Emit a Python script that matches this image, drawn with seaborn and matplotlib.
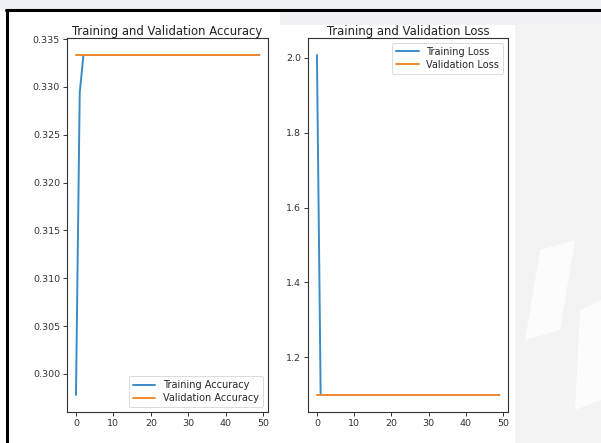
import numpy as np
import pandas as pd
import matplotlib
matplotlib.use("Agg")
import matplotlib.pyplot as plt
import seaborn as sns
from matplotlib.patches import Rectangle, Polygon

# ---- data ----
epochs = list(range(50))
train_acc = [0.2978, 0.3294] + [0.33333] * 48
val_acc = [0.33333] * 50
train_loss = [2.008] + [1.0986] * 49
val_loss = [1.0986] * 50

acc_labels = ["Training Accuracy", "Validation Accuracy"]
loss_labels = ["Training Loss", "Validation Loss"]
titles = ["Training and Validation Accuracy", "Training and Validation Loss"]

sns.set_theme(style="ticks")
plt.rcParams['font.family'] = ['DejaVu Sans']

W, H = 601, 443
fig = plt.figure(figsize=(W / 100, H / 100), dpi=100)
fig.patch.set_facecolor("white")

# faint watermark-like background on the right / top
bg = fig.add_axes([0, 0, 1, 1], zorder=-10)
bg.set_xlim(0, W); bg.set_ylim(H, 0); bg.axis("off")
bg.add_patch(Rectangle((515, 0), 86, 443, color="#f3f3f3", lw=0))
bg.add_patch(Rectangle((280, 0), 321, 25, color="#f1f1f3", lw=0))
bg.add_patch(Rectangle((0, 0), 601, 10, color="#eef0f4", lw=0))
bg.add_patch(Polygon([[540, 250], [575, 240], [560, 330], [525, 340]], closed=True, color="#fcfcfc", lw=0))
bg.add_patch(Polygon([[580, 310], [601, 300], [601, 400], [575, 410]], closed=True, color="#fcfcfc", lw=0))
# frame lines
bg.plot([6, 601], [10, 10], color="black", lw=2.2)
bg.plot([6.5, 6.5], [10, 443], color="black", lw=2.2)

def px_axes(l, t, r, b):
    return fig.add_axes([l / W, 1 - b / H, (r - l) / W, (b - t) / H])

ax1 = px_axes(67, 38, 268, 412)
ax2 = px_axes(308, 38, 508, 412)

df_acc = pd.DataFrame({"epoch": epochs * 2,
                       "value": train_acc + val_acc,
                       "series": [acc_labels[0]] * 50 + [acc_labels[1]] * 50})
df_loss = pd.DataFrame({"epoch": epochs * 2,
                        "value": train_loss + val_loss,
                        "series": [loss_labels[0]] * 50 + [loss_labels[1]] * 50})

pal = ["#3a8bc6", "#f28a30"]
sns.lineplot(data=df_acc, x="epoch", y="value", hue="series", palette=pal, ax=ax1, lw=1.4)
sns.lineplot(data=df_loss, x="epoch", y="value", hue="series", palette=pal, ax=ax2, lw=1.4)

for ax, title, loc in [(ax1, titles[0], "lower right"), (ax2, titles[1], "upper right")]:
    ax.set_facecolor("white")
    ax.set_title(title, fontsize=8.4, pad=2.5, color="#222222")
    ax.set_xlabel(""); ax.set_ylabel("")
    ax.set_xticks([0, 10, 20, 30, 40, 50])
    ax.tick_params(labelsize=6.8, length=3, width=0.7, colors="#333333", pad=2)
    for s in ax.spines.values():
        s.set_visible(True)
        s.set_linewidth(0.8)
        s.set_color("#333333")
    leg = ax.legend(loc=loc, fontsize=7, frameon=True, handlelength=2.3,
                    borderpad=0.4, labelspacing=0.3, handletextpad=0.8, fancybox=True)
    leg.get_frame().set_linewidth(0.6)
    leg.get_frame().set_edgecolor("#cccccc")

ax1.set_yticks([0.300, 0.305, 0.310, 0.315, 0.320, 0.325, 0.330, 0.335])
ax1.set_yticklabels(["0.300", "0.305", "0.310", "0.315", "0.320", "0.325", "0.330", "0.335"])
ax1.set_xlim(-2.4, 51.3)
ax2.set_xlim(-2.4, 51.3)
ax2.set_yticks([1.2, 1.4, 1.6, 1.8, 2.0])
ax2.set_yticklabels(["1.2", "1.4", "1.6", "1.8", "2.0"])

fig.savefig("out.png", dpi=100)
